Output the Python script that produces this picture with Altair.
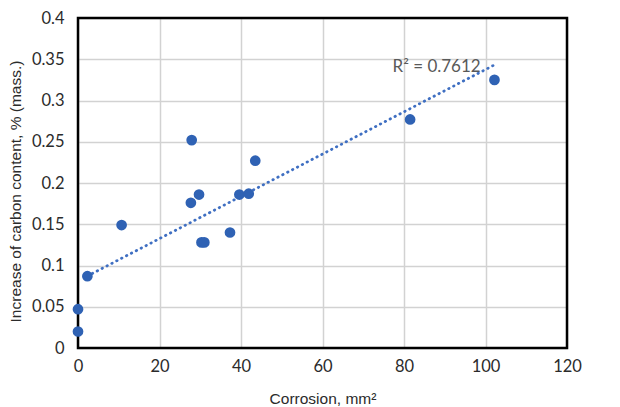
import altair as alt
import pandas as pd

# Data
corrosion = [0, 0, 2.3, 10.7, 27.9, 27.7, 29.7, 30.3, 31.0, 37.3, 39.6, 41.9, 43.5, 81.5, 102.2]
carbon = [0.020, 0.047, 0.087, 0.149, 0.252, 0.176, 0.186, 0.128, 0.128, 0.140, 0.186, 0.187, 0.227, 0.277, 0.325]
x_ticks = [0, 20, 40, 60, 80, 100, 120]
y_ticks = [0, 0.05, 0.1, 0.15, 0.2, 0.25, 0.3, 0.35, 0.4]
r2_label = ["R² = 0.7612"]
r2_pos_x = [88.0]
r2_pos_y = [0.341]

W, H = 489, 330

df = pd.DataFrame({"x": corrosion, "y": carbon})
lab = pd.DataFrame({"x": r2_pos_x, "y": r2_pos_y, "t": r2_label})
frame_df = pd.DataFrame({"k": [0]})

xs = alt.Scale(domain=[0, 120], nice=False)
ys = alt.Scale(domain=[0, 0.4], nice=False)

xaxis = alt.Axis(values=x_ticks, title="Corrosion, mm²", grid=True, domain=False, ticks=False,
                 gridColor="#d2d2d2", gridWidth=1.5, labelFlush=False, labelOverlap=False,
                 labelFont="Lato", labelFontSize=16.5, labelColor="#2b2b2b", labelPadding=10,
                 titleFont="Liberation Sans", titleFontSize=15.5, titleFontWeight="normal",
                 titleColor="#2b2b2b", titleY=50, titleBaseline="middle", titleAnchor="middle")
yaxis = alt.Axis(values=y_ticks, format=".2~f", title="Increase of carbon content, % (mass.)",
                 grid=True, domain=False, ticks=False,
                 gridColor="#d2d2d2", gridWidth=1.5, labelFlush=False, labelOverlap=False,
                 labelFont="Lato", labelFontSize=16.5, labelColor="#2b2b2b", labelPadding=14,
                 titleFont="Liberation Sans", titleFontSize=15.5, titleFontWeight="normal",
                 titleColor="#2b2b2b", titleX=-63, titleY=173, titleBaseline="middle",
                 titleAnchor="middle")

frame = alt.Chart(frame_df).mark_rect(fillOpacity=0, stroke="#000000", strokeWidth=2.5).encode(
    x=alt.value(0), x2=alt.value(W), y=alt.value(0), y2=alt.value(H)
)

points = alt.Chart(df).mark_circle(size=115, color="#2F62B4", opacity=1).encode(
    x=alt.X("x:Q", scale=xs, axis=xaxis),
    y=alt.Y("y:Q", scale=ys, axis=yaxis),
)

trend = alt.Chart(df).transform_regression(
    "x", "y", extent=[2.3, 102.2]
).mark_line(color="#3F6FC2", strokeDash=[0.5, 5], strokeWidth=2.8, strokeCap="round").encode(
    x=alt.X("x:Q", scale=xs),
    y=alt.Y("y:Q", scale=ys),
)

text = alt.Chart(lab).mark_text(font="Lato", fontSize=17, color="#595959", align="center",
                                baseline="middle").encode(
    x=alt.X("x:Q", scale=xs),
    y=alt.Y("y:Q", scale=ys),
    text="t:N",
)

chart = alt.layer(frame, trend, points, text).properties(
    width=W, height=H,
    autosize=alt.AutoSizeParams(type="none"),
    padding={"left": 70, "top": 10, "right": 45, "bottom": 59},
).configure_view(stroke=None)

chart.save("out.html", embed_options={"renderer": "svg", "actions": False})
